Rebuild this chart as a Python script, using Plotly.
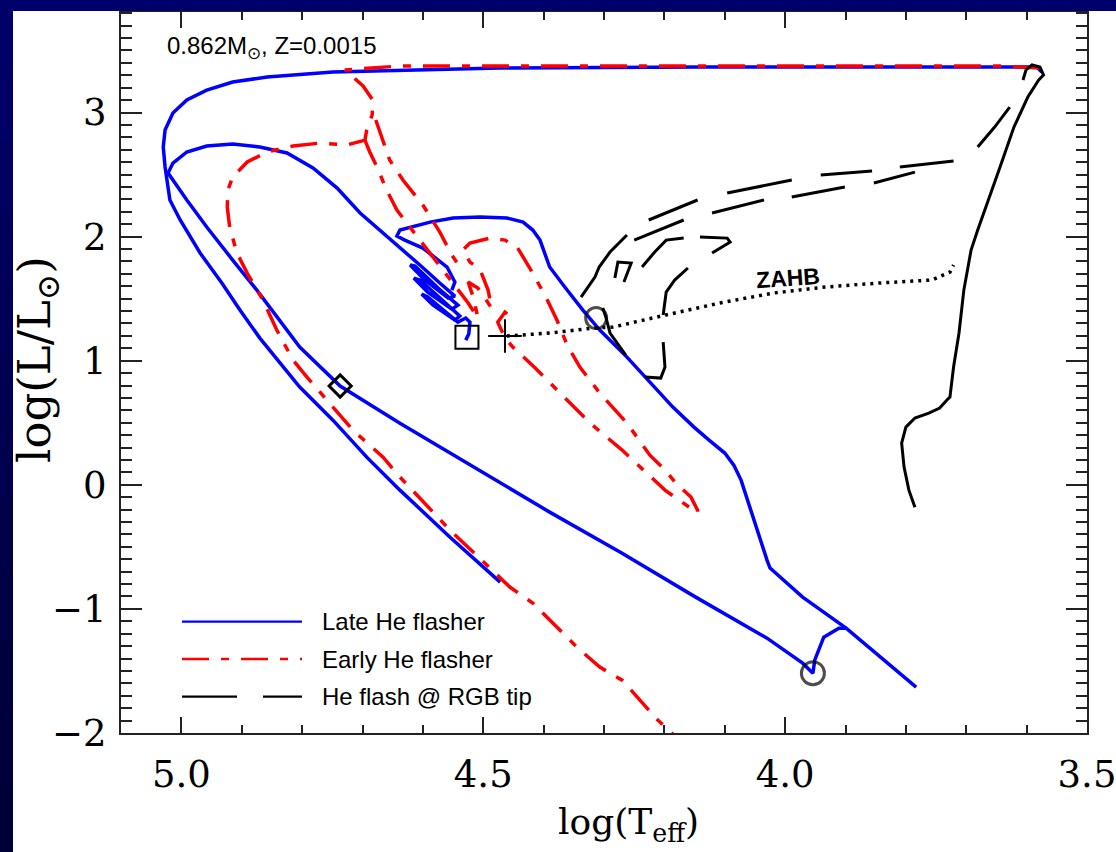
import plotly.graph_objects as go

# ---------------- data (log Teff, log L/Lsun) ----------------
# Late He flasher (blue, solid); None separates track pieces
late_x = [3.575, 3.583, 3.810, 4.141, 4.472, 4.638, 4.749, 4.858, 4.915, 4.958, 4.991, 5.014,
          5.027, 5.030, 5.027, 5.019, 5.002, 4.969, 4.933, 4.903, 4.870, 4.804, 4.749, 4.693,
          4.638, 4.555, 4.472,
          None,
          3.783, 3.851, 3.899, 3.971, 4.025, 4.030, 4.045, 4.058, 4.073, 4.085, 4.100, 4.126,
          4.151, 4.186, 4.262, 4.307, 4.335, 4.365, 4.390, 4.406, 4.418, 4.434, 4.461, 4.505,
          4.550, 4.588, 4.638, 4.643, 4.630, 4.600, 4.560, 4.547, 4.552,
          None,
          3.899, 3.911, 3.936, 3.951, 3.954, 3.971, 4.030, 4.151, 4.270, 4.390, 4.638, 4.693,
          4.737, 4.804, 4.875, 4.915, 4.958, 4.991, 5.022, 5.014, 4.991, 4.958, 4.915, 4.870,
          4.825, 4.782, 4.742, 4.704, 4.666, 4.638, 4.605, 4.572, 4.547, 4.558, 4.597, 4.621,
          4.613, 4.575, 4.542, 4.552, 4.592, 4.615, 4.605, 4.568, 4.539, 4.547, 4.583, 4.602,
          4.592, 4.560, 4.542, 4.529, 4.522, 4.524, 4.529]
late_y = [3.326, 3.367, 3.367, 3.367, 3.359, 3.343, 3.326, 3.286, 3.246, 3.181, 3.101, 2.996,
          2.859, 2.722, 2.561, 2.295, 2.134, 1.868, 1.626, 1.408, 1.182, 0.788, 0.521, 0.223,
          -0.043, -0.422, -0.784,
          None,
          -1.630, -1.356, -1.155, -0.905, -0.671, -0.607, -0.389, -0.180, 0.038, 0.159, 0.256, 0.360,
          0.465, 0.626, 1.029, 1.247, 1.408, 1.594, 1.755, 1.972, 2.053, 2.117, 2.150, 2.158,
          2.150, 2.117, 2.053, 2.005, 1.972, 1.908, 1.755, 1.634, 1.569,
          None,
          -1.155, -1.155, -1.228, -1.413, -1.518, -1.437, -1.236, -0.897, -0.551, -0.220, 0.497, 0.659,
          0.796, 1.110, 1.569, 1.811, 2.077, 2.295, 2.512, 2.593, 2.682, 2.730, 2.746, 2.722,
          2.674, 2.553, 2.391, 2.190, 2.029, 1.916, 1.771, 1.626, 1.521, 1.505, 1.650, 1.771,
          1.763, 1.585, 1.448, 1.416, 1.553, 1.666, 1.650, 1.489, 1.360, 1.328, 1.448, 1.537,
          1.513, 1.384, 1.311, 1.344, 1.311, 1.215, 1.166]

# Early He flasher (red, dash-dot)
early_x = [3.578, 3.644, 3.976, 4.307, 4.638, 4.729, 4.713, 4.699, 4.683, 4.684, 4.693, 4.696,
           4.726, 4.770, 4.815, 4.858, 4.891, 4.915, 4.923, 4.924, 4.920, 4.908, 4.891, 4.865,
           4.842, 4.815, 4.792, 4.754, 4.716, 4.666, 4.638, 4.555, 4.456, 4.418, 4.378, 4.345,
           4.307, 4.270, 4.211, 4.166,
           None,
           4.696, 4.688, 4.676, 4.660, 4.643, 4.605, 4.572, 4.547, 4.525, 4.509, 4.515, 4.525,
           4.509, 4.486, 4.492, 4.505, 4.522, 4.534, 4.522, 4.489, 4.464, 4.444, 4.423, 4.398,
           4.378, 4.361, 4.340, 4.307, 4.262, 4.224, 4.199, 4.181, 4.156, 4.145, 4.145, 4.199,
           4.270, 4.323, 4.373, 4.414, 4.451, 4.464, 4.476, 4.464, 4.453,
           None,
           4.678, 4.655, 4.633, 4.600, 4.572, 4.552, 4.535]
early_y = [3.359, 3.375, 3.375, 3.375, 3.375, 3.343, 3.278, 3.214, 3.101, 2.980, 2.859, 2.778,
           2.738, 2.754, 2.730, 2.682, 2.601, 2.480, 2.375, 2.238, 2.077, 1.868, 1.706, 1.489,
           1.247, 1.005, 0.868, 0.659, 0.441, 0.223, 0.062, -0.365, -0.824, -0.953, -1.147, -1.308,
           -1.469, -1.574, -1.896, -2.098,
           None,
           2.778, 2.682, 2.561, 2.375, 2.214, 1.972, 1.771, 1.610, 1.465, 1.344, 1.489, 1.634,
           1.585, 1.424, 1.569, 1.731, 1.795, 1.892, 1.948, 1.988, 1.972, 1.916, 1.747, 1.529,
           1.328, 1.126, 0.949, 0.739, 0.497, 0.239, 0.119, 0.014, -0.099, -0.204, -0.228, -0.043,
           0.280, 0.497, 0.739, 0.941, 1.110, 1.183, 1.311, 1.392, 1.343,
           None,
           2.940, 2.617, 2.456, 2.254, 2.037, 1.851, 1.731]

# Red giant branch up to the tip (black, solid)
rgb_x = [3.785, 3.795, 3.803, 3.807, 3.800, 3.785, 3.762, 3.744, 3.732, 3.727, 3.721, 3.712,
         3.704, 3.692, 3.681, 3.663, 3.644, 3.621, 3.598, 3.580, 3.572, 3.578, 3.591, 3.601, 3.606]
rgb_y = [-0.180, -0.043, 0.143, 0.336, 0.465, 0.538, 0.578, 0.618, 0.683, 0.707, 0.949, 1.223,
         1.569, 1.892, 2.053, 2.295, 2.561, 2.883, 3.125, 3.262, 3.302, 3.367, 3.383, 3.343, 3.262]

# He flash at RGB tip (black long dashes, each piece one dash)
flash_x = [3.628, 3.653, 3.681, None, 3.721, 3.810, None, 3.856, 3.941, None,
           3.989, 4.096, None, 4.145, 4.226, None, 4.262, 4.290, 4.308, 4.315, 4.338, None,
           3.785, 3.853, None, 3.901, 3.989, None, 4.035, 4.121, None, 4.168, 4.250, None,
           4.237, 4.216, 4.197, 4.168, None, 4.141, 4.096, 4.091, 4.121, None,
           4.282, 4.277, 4.255, 4.267, None, 4.161, 4.183, 4.197, 4.202, None,
           4.202, 4.199, 4.206, 4.232, None, 4.302, 4.297, 4.290, 4.264]
flash_y = [3.044, 2.883, 2.722, None, 2.609, 2.561, None, 2.528, 2.496, None,
           2.456, 2.351, None, 2.295, 2.134, None, 2.013, 1.876, 1.755, 1.674, 1.513, None,
           2.520, 2.432, None, 2.400, 2.319, None, 2.295, 2.190, None, 2.134, 1.972, None,
           1.755, 1.876, 1.972, 1.988, None, 1.997, 1.988, 1.956, 1.868, None,
           1.666, 1.795, 1.787, 1.634, None, 1.747, 1.650, 1.553, 1.368, None,
           1.150, 0.949, 0.860, 0.868, None, 1.424, 1.352, 1.223, 1.045]

# Zero-age horizontal branch (dotted)
zahb_x = [4.461, 4.390, 4.318, 4.285, 4.198, 4.108, 4.020, 3.933, 3.845, 3.757, 3.727, 3.721]
zahb_y = [1.199, 1.223, 1.263, 1.271, 1.368, 1.465, 1.545, 1.594, 1.626, 1.650, 1.714, 1.771]

# special points
square_pt = (4.527, 1.190)
plus_pt = (4.464, 1.199)
diamond_pt = (4.737, 0.796)
circle_pts_x = [3.954, 4.313]
circle_pts_y = [-1.518, 1.344]

xtick_vals = [5.0, 4.5, 4.0, 3.5]
xtick_text = ["5.0", "4.5", "4.0", "3.5"]
ytick_vals = [-2, -1, 0, 1, 2, 3]
ytick_text = ["\u22122", "\u22121", "0", "1", "2", "3"]
legend_labels = ["Late He flasher", "Early He flasher", "He flash @ RGB tip"]

BLUE = "#0000ff"
RED = "#ff0000"
RED_DASH = "27px,12px,8px,12px"
BLACK_DASH = "55px,26px"

fig = go.Figure()
fig.add_trace(go.Scatter(x=late_x, y=late_y, mode="lines", name=legend_labels[0],
                         line=dict(color=BLUE, width=3.5), connectgaps=False))
fig.add_trace(go.Scatter(x=early_x, y=early_y, mode="lines", name=legend_labels[1],
                         line=dict(color=RED, width=3.5, dash=RED_DASH), connectgaps=False))
fig.add_trace(go.Scatter(x=rgb_x, y=rgb_y, mode="lines", name="RGB",
                         line=dict(color="black", width=3)))
fig.add_trace(go.Scatter(x=flash_x, y=flash_y, mode="lines", name=legend_labels[2],
                         line=dict(color="black", width=3), connectgaps=False))
fig.add_trace(go.Scatter(x=zahb_x, y=zahb_y, mode="lines", name="ZAHB",
                         line=dict(color="black", width=3.5, dash="3px,5px")))
fig.add_trace(go.Scatter(x=[square_pt[0]], y=[square_pt[1]], mode="markers",
                         marker=dict(symbol="square-open", size=23, color="#000000",
                                     line=dict(color="#000000", width=2))))
fig.add_trace(go.Scatter(x=[plus_pt[0]], y=[plus_pt[1]], mode="markers",
                         marker=dict(symbol="cross-thin-open", size=24, color="#000000",
                                     line=dict(color="#000000", width=2))))
fig.add_trace(go.Scatter(x=[diamond_pt[0]], y=[diamond_pt[1]], mode="markers",
                         marker=dict(symbol="diamond-open", size=17, color="#000000",
                                     line=dict(color="#000000", width=3))))
fig.add_trace(go.Scatter(x=circle_pts_x, y=circle_pts_y, mode="markers",
                         marker=dict(symbol="circle-open", size=[23, 21], color="#000000",
                                     line=dict(color="#000000", width=3))))

# ---------------- layout ----------------
W, H = 1116, 852
L, R, T, B = 121, 29, 12, 119
pw, ph = W - L - R, H - T - B


def px_x(px):
    return (px - L) / pw


def px_y(py):
    return 1 - (py - T) / ph


shapes = []
# navy slide frame: top band + left strip with gradient
shapes.append(dict(type="rect", xref="paper", yref="paper", x0=px_x(0), x1=px_x(W),
                   y0=px_y(11), y1=px_y(0), fillcolor="#00006c", line=dict(width=0), layer="above"))
nseg = 12
for i in range(nseg):
    y0p = i * H / nseg
    y1p = (i + 1) * H / nseg
    c = int(0x6c - (0x6c - 0x36) * (i + 0.5) / nseg)
    shapes.append(dict(type="rect", xref="paper", yref="paper", x0=px_x(0), x1=px_x(13),
                       y0=px_y(y1p), y1=px_y(y0p), fillcolor="#0000%02x" % c,
                       line=dict(width=0), layer="above"))

# legend samples
leg_rows = [621.7, 659.0, 696.7]
leg_styles = [dict(color=BLUE, width=2.2), dict(color=RED, width=2.6, dash=RED_DASH),
              dict(color="black", width=2.2, dash=BLACK_DASH)]
for row, st in zip(leg_rows, leg_styles):
    shapes.append(dict(type="line", xref="paper", yref="paper", x0=px_x(182), x1=px_x(302),
                       y0=px_y(row), y1=px_y(row), line=st))

annotations = []
for row, lab in zip(leg_rows, legend_labels):
    annotations.append(dict(xref="paper", yref="paper", x=px_x(320), y=px_y(row), text=lab,
                            showarrow=False, xanchor="left", yanchor="middle",
                            font=dict(family="Liberation Sans, Arial", size=24, color="black")))
annotations.append(dict(xref="paper", yref="paper", x=px_x(165), y=px_y(48),
                        text="0.862M<sub>\u2299</sub>, Z=0.0015", showarrow=False,
                        xanchor="left", yanchor="middle",
                        font=dict(family="Liberation Sans, Arial", size=24, color="black")))
annotations.append(dict(x=3.995, y=1.666, xref="x", yref="y", text="<b>ZAHB</b>",
                        showarrow=False, textangle=-4,
                        font=dict(family="Liberation Sans, Arial", size=23, color="black")))
# axis titles
annotations.append(dict(xref="paper", yref="paper", x=px_x(628), y=px_y(824),
                        text="log(T<sub>eff</sub>)", showarrow=False,
                        xanchor="center", yanchor="middle",
                        font=dict(family="DejaVu Serif", size=36, color="black")))
annotations.append(dict(xref="paper", yref="paper", x=px_x(37), y=px_y(360),
                        text="log(L/L<sub>\u2299</sub>)", showarrow=False, textangle=-90,
                        xanchor="center", yanchor="middle",
                        font=dict(family="DejaVu Serif", size=45, color="black")))

axis_common = dict(showgrid=False, zeroline=False, showline=True, linecolor="#222222",
                   linewidth=2, mirror="ticks", ticks="inside", tickcolor="#222222",
                   tickwidth=2, tickfont=dict(family="DejaVu Serif", size=37, color="black"),
                   automargin=False, ticklabeloverflow="allow")

fig.update_layout(
    width=W, height=H,
    margin=dict(l=L, r=R, t=T, b=B, pad=0),
    paper_bgcolor="white", plot_bgcolor="white",
    showlegend=False,
    shapes=shapes, annotations=annotations,
    xaxis=dict(range=[5.1, 3.5], tickvals=xtick_vals, ticktext=xtick_text, ticklen=16,
               ticklabelstandoff=8,
               minor=dict(tick0=0, dtick=0.1, ticklen=8, tickwidth=2, tickcolor="#222222",
                          ticks="inside", showgrid=False),
               **axis_common),
    yaxis=dict(range=[-2.0, 3.81], tickvals=ytick_vals, ticktext=ytick_text, ticklen=21,
               ticklabelstandoff=5,
               minor=dict(tick0=0, dtick=0.1, ticklen=11, tickwidth=2, tickcolor="#222222",
                          ticks="inside", showgrid=False),
               **axis_common),
)

fig.write_html("out.html", config={"displayModeBar": False})
